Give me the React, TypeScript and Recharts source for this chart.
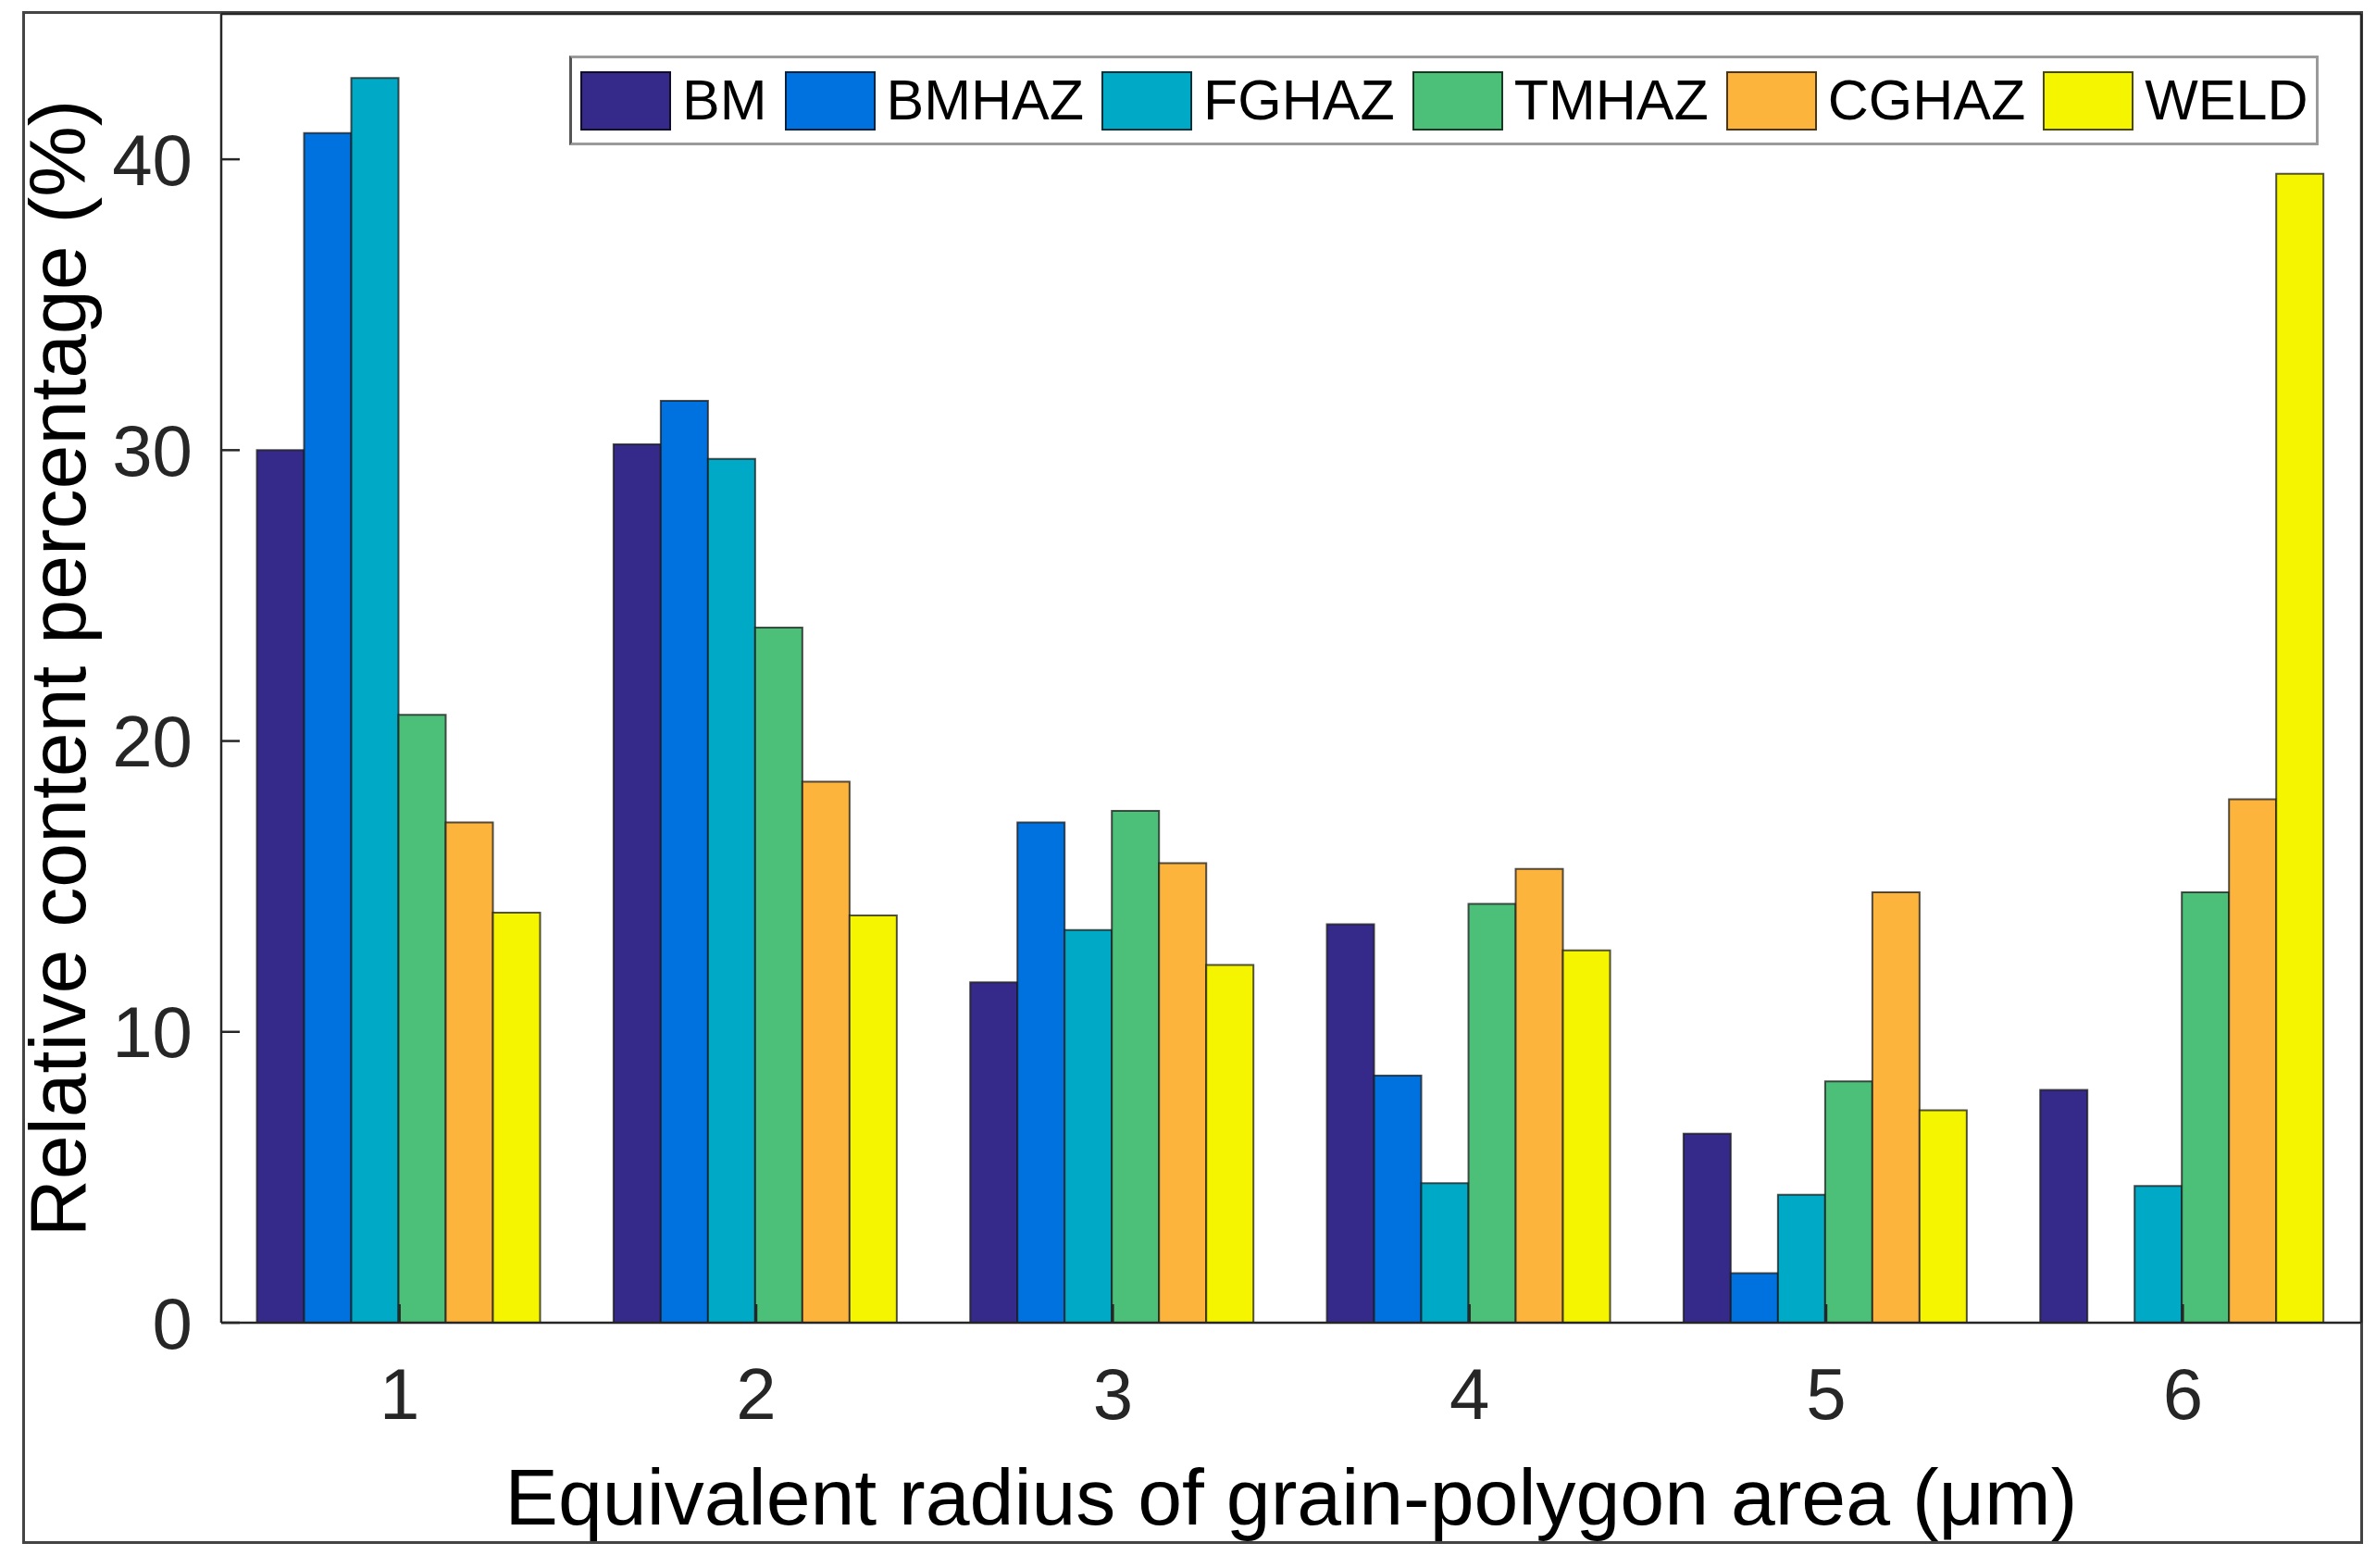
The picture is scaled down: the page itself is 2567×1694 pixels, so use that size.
import { Bar, BarChart, Legend, XAxis, YAxis } from "recharts";

const categories = ["1", "2", "3", "4", "5", "6"];
const seriesNames = ["BM", "BMHAZ", "FGHAZ", "TMHAZ", "CGHAZ", "WELD"];
const seriesColors = ["#35298a", "#0072e0", "#00a9c5", "#4cbf78", "#fdb43c", "#f5f500"];

const bm = [30.0, 30.2, 11.7, 13.7, 6.5, 8.0];
const bmhaz = [40.9, 31.7, 17.2, 8.5, 1.7, 0];
const fghaz = [42.8, 29.7, 13.5, 4.8, 4.4, 4.7];
const tmhaz = [20.9, 23.9, 17.6, 14.4, 8.3, 14.8];
const cghaz = [17.2, 18.6, 15.8, 15.6, 14.8, 18.0];
const weld = [14.1, 14.0, 12.3, 12.8, 7.3, 39.5];

const yTicks = [0, 10, 20, 30, 40];
const xTitle = "Equivalent radius of grain-polygon area (μm)";
const yTitle = "Relative content percentage (%)";

const seriesValues = [bm, bmhaz, fghaz, tmhaz, cghaz, weld];

const data = categories.map((cat, i) => {
  const row: Record<string, string | number> = { cat };
  seriesNames.forEach((name, s) => {
    row[name] = seriesValues[s][i];
  });
  return row;
});

const FONT = '"Liberation Sans", Arial, Helvetica, sans-serif';
const AXIS_COLOR = "#262626";

// MATLAB-style legend box with big rectangular swatches
function FigureLegend({ payload }: { payload?: Array<{ value: string; color: string }> }) {
  if (!payload) return null;
  // recharts sorts legend items by name; put them back in series order
  const items = [...payload].sort((a, b) => seriesNames.indexOf(a.value) - seriesNames.indexOf(b.value));
  return (
    <div
      style={{
        boxSizing: "border-box",
        width: 1890,
        height: 97,
        border: "3px solid #9a9a9a",
        borderLeft: "3px solid #555",
        background: "#fff",
        display: "flex",
        alignItems: "center",
        paddingLeft: 9,
        fontFamily: FONT,
        fontSize: 61,
        color: "#000",
      }}
    >
      {items.map((entry) => (
        <div key={entry.value} style={{ display: "flex", alignItems: "center", marginRight: 19 }}>
          <span
            style={{
              display: "inline-block",
              boxSizing: "border-box",
              width: 98,
              height: 64,
              background: entry.color,
              border: "2px solid rgba(0,0,0,0.7)",
              marginRight: 12,
            }}
          />
          <span style={{ lineHeight: 1 }}>{entry.value}</span>
        </div>
      ))}
    </div>
  );
}

function YTitle({ viewBox }: { viewBox?: { x: number; y: number; width: number; height: number } }) {
  if (!viewBox) return null;
  const x = viewBox.x + 53;
  const y = viewBox.y + viewBox.height / 2;
  return (
    <text x={x} y={y} transform={`rotate(-90 ${x} ${y})`} textAnchor="middle" fontSize={86} fontFamily={FONT} fill="#000">
      {yTitle}
    </text>
  );
}

function XTitle({ viewBox }: { viewBox?: { x: number; y: number; width: number; height: number } }) {
  if (!viewBox) return null;
  return (
    <text
      x={viewBox.x + viewBox.width / 2}
      y={viewBox.y + viewBox.height}
      textAnchor="middle"
      fontSize={86}
      fontFamily={FONT}
      fill="#000"
    >
      {xTitle}
    </text>
  );
}

export default function App() {
  const tickStyle = { fill: AXIS_COLOR, fontSize: 78, fontFamily: FONT };
  const lineStyle = { stroke: AXIS_COLOR, strokeWidth: 2.5 };
  return (
    <div style={{ position: "fixed", left: 0, top: 0, width: 2567, height: 1694, background: "#fff", fontFamily: FONT }}>
      <div
        style={{
          position: "absolute",
          left: 24,
          top: 12,
          width: 2529,
          height: 1656,
          boxSizing: "border-box",
          border: "3px solid #444",
        }}
      />
      <div style={{ position: "absolute", left: 0, top: 0 }}>
        <BarChart
          width={2567}
          height={1694}
          data={data}
          margin={{ top: 14, right: 15, bottom: 47, left: 39 }}
          barCategoryGap="10%"
          barGap={0}
        >
          <XAxis
            dataKey="cat"
            height={218}
            tick={tickStyle}
            tickSize={-20}
            tickMargin={69}
            axisLine={lineStyle}
            tickLine={lineStyle}
            label={<XTitle />}
          />
          <XAxis
            xAxisId="top"
            dataKey="cat"
            orientation="top"
            height={1}
            tick={false}
            tickSize={-22}
            axisLine={lineStyle}
            tickLine={lineStyle}
          />
          <YAxis
            domain={[0, 45]}
            ticks={yTicks}
            width={200}
            tick={tickStyle}
            tickSize={-20}
            tickMargin={51}
            axisLine={lineStyle}
            tickLine={lineStyle}
            label={<YTitle />}
          />
          <YAxis
            yAxisId="right"
            orientation="right"
            domain={[0, 45]}
            ticks={yTicks}
            width={1}
            tick={false}
            tickSize={-20}
            axisLine={lineStyle}
            tickLine={lineStyle}
          />
          <Legend
            layout="horizontal"
            verticalAlign="middle"
            align="center"
            wrapperStyle={{ left: 615, top: 60, width: 1890, height: 97 }}
            content={<FigureLegend />}
          />
          {seriesNames.map((name, s) => (
            <Bar
              key={name}
              dataKey={name}
              name={name}
              fill={seriesColors[s]}
              stroke="#1a1a1a"
              strokeOpacity={0.75}
              strokeWidth={2}
              isAnimationActive={false}
            />
          ))}
        </BarChart>
      </div>
    </div>
  );
}
